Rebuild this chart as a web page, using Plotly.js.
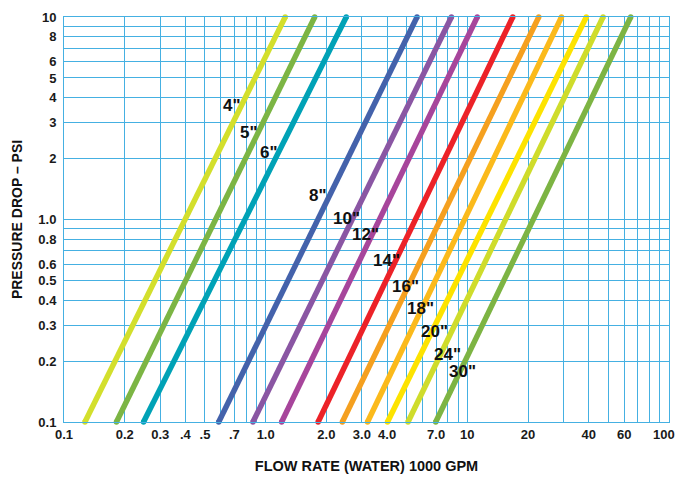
<!DOCTYPE html>
<html>
<head>
<meta charset="utf-8">
<script src="https://cdn.plot.ly/plotly-3.0.1.min.js"></script>
<style>
  html, body { margin: 0; padding: 0; background: #ffffff; }
  #chart { width: 675px; height: 479px; }
</style>
</head>
<body>
<div id="chart"></div>
<script>
// ---- data ----
const pipeSizes   = ['4"', '5"', '6"', '8"', '10"', '12"', '14"', '16"', '18"', '20"', '24"', '30"'];
const pressureEnds = [0.1, 10];                       // PSI at both ends of each line
const flowAtLow   = [0.127, 0.182, 0.248, 0.585, 0.865, 1.20, 1.82, 2.40, 3.20, 4.02, 5.08, 6.97];   // 1000 GPM at 0.1 PSI
const flowAtHigh  = [1.25, 1.75, 2.51, 5.63, 8.34, 11.2, 16.8, 22.6, 29.3, 38.9, 47.1, 64.6];      // 1000 GPM at 10 PSI
const lineColors  = ['#d3df2c', '#7cb544', '#00a2b6', '#4462ab', '#8a56a3', '#a7459b',
                     '#ec2228', '#f5a01f', '#fbba1b', '#fde300', '#cfdc2b', '#7db443'];

const xTickVals = [0.1, 0.2, 0.3, 0.4, 0.5, 0.7, 1, 2, 3, 4, 7, 10, 20, 40, 60];
const xTickText = ['0.1', '0.2', '0.3', '.4', '.5', '.7', '1.0', '2.0', '3.0', '4.0', '7.0', '10', '20', '40', '60'];
const xEdgeLabel = '100';
const yTickVals = [0.1, 0.2, 0.3, 0.4, 0.5, 0.6, 0.8, 1, 2, 3, 4, 5, 6, 8, 10];
const yTickText = ['0.1', '0.2', '0.3', '0.4', '0.5', '0.6', '0.8', '1.0', '2', '3', '4', '5', '6', '8', '10'];
const xGridVals = [0.1, 0.2, 0.3, 0.4, 0.5, 0.6, 0.7, 0.8, 0.9, 1, 2, 3, 4, 5, 6, 7, 8, 9, 10, 20, 30, 40, 50, 60, 70, 80, 90, 100];
const yGridVals = [0.1, 0.2, 0.3, 0.4, 0.5, 0.6, 0.7, 0.8, 0.9, 1, 2, 3, 4, 5, 6, 7, 8, 9, 10];

// label placement (log10 coordinates of label centres)
const labelLogX = [-0.168, -0.084, 0.015, 0.258, 0.402, 0.496, 0.600, 0.692, 0.769, 0.838, 0.903, 0.977];
const labelLogY = [0.561, 0.430, 0.331, 0.121, 0.007, -0.074, -0.200, -0.332, -0.438, -0.555, -0.665, -0.753];

// ---- chart ----
const FONT = 'Liberation Sans, Arial, Helvetica, sans-serif';
const GRID = '#45b0e2';
const tickFont = { family: FONT, size: 13, color: '#1a1a1a', weight: 'bold' };

const traces = pipeSizes.map((name, i) => ({
  type: 'scatter',
  mode: 'lines+markers',
  name: name,
  x: [flowAtLow[i], flowAtHigh[i]],
  y: pressureEnds,
  line: { color: lineColors[i], width: 5.5 },
  marker: { color: lineColors[i], size: 5.5 },
  cliponaxis: false,
  hoverinfo: 'x+y+name'
}));

const annotations = pipeSizes.map((name, i) => ({
  x: labelLogX[i], y: labelLogY[i], xref: 'x', yref: 'y',
  text: name, showarrow: false,
  xanchor: 'center', yanchor: 'middle',
  font: { family: FONT, size: 17, color: '#111111', weight: 'bold' }
}));
// last x tick label sits at the right edge, nudged inside like the reference
annotations.push({
  x: 1.976, y: 0, xref: 'x', yref: 'paper', yanchor: 'top', yshift: -3,
  text: xEdgeLabel, showarrow: false, xanchor: 'center', font: tickFont
});

const axisCommon = {
  type: 'log',
  showgrid: true, gridcolor: GRID, gridwidth: 1,
  showline: true, linecolor: GRID, linewidth: 1, mirror: true,
  zeroline: false, ticks: '',
  tickmode: 'array',
  tickfont: tickFont,
  fixedrange: true
};

const layout = {
  width: 675, height: 479,
  margin: { l: 64, r: 6, t: 17, b: 57 },
  paper_bgcolor: '#ffffff', plot_bgcolor: '#ffffff',
  showlegend: false,
  xaxis: Object.assign({}, axisCommon, {
    range: [-1, 2],
    tickvals: xTickVals, ticktext: xTickText,
    ticklabelstandoff: 0,
    minor: { tickmode: 'array', tickvals: xGridVals, showgrid: true, gridcolor: GRID, gridwidth: 1, ticks: '' },
    title: { text: 'FLOW RATE (WATER) 1000 GPM', standoff: 20,
             font: { family: FONT, size: 14.5, color: '#111111', weight: 'bold' } }
  }),
  yaxis: Object.assign({}, axisCommon, {
    range: [-1, 1],
    tickvals: yTickVals, ticktext: yTickText,
    ticklabelstandoff: 4,
    minor: { tickmode: 'array', tickvals: yGridVals, showgrid: true, gridcolor: GRID, gridwidth: 1, ticks: '' },
    title: { text: 'PRESSURE DROP – PSI', standoff: 12,
             font: { family: FONT, size: 14, color: '#111111', weight: 'bold' } }
  }),
  annotations: annotations
};

Plotly.newPlot('chart', traces, layout, { displayModeBar: false, staticPlot: true });
</script>
</body>
</html>
